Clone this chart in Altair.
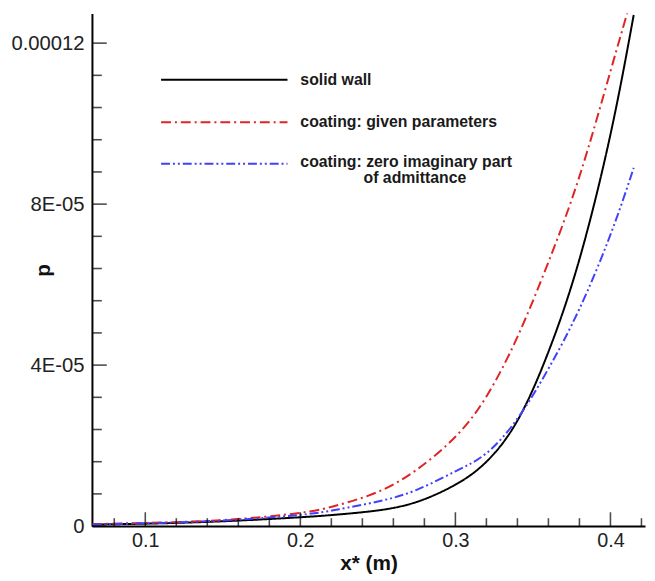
import altair as alt
import pandas as pd

# ---------------- data ----------------
x_vals = [0.066, 0.1, 0.15, 0.2, 0.225, 0.25, 0.275, 0.3, 0.32, 0.34, 0.36, 0.38, 0.4, 0.415]
solid_wall = [0.4e-6, 0.6e-6, 1.2e-6, 2.2e-6, 2.9e-6, 3.9e-6, 6.0e-6, 1.03e-5, 1.60e-5,
              2.62e-5, 4.33e-5, 6.63e-5, 9.73e-5, 1.27e-4]
coating_given = [0.5e-6, 0.8e-6, 1.5e-6, 3.3e-6, 5.3e-6, 8.5e-6, 1.40e-5, 2.22e-5, 3.22e-5,
                 4.70e-5, 6.56e-5, 8.69e-5, 1.13e-4, 1.33e-4]
coating_zero_imag = [0.4e-6, 0.7e-6, 1.4e-6, 2.8e-6, 4.2e-6, 6.1e-6, 9.0e-6, 1.36e-5, 1.81e-5,
                     2.67e-5, 3.91e-5, 5.4e-5, 7.24e-5, 8.9e-5]

series_names = ["solid wall", "coating: given parameters",
                "coating: zero imaginary part of admittance"]
legend_line1 = ["solid wall", "coating: given parameters", "coating: zero imaginary part"]
legend_line2 = ["", "", "of admittance"]
series_colors = ["#000000", "#e02424", "#4040ff"]
series_dashes = [[1, 0], [10, 4, 2, 4], [9, 3, 2, 3, 2, 3]]

x_major = [0.1, 0.2, 0.3, 0.4]
x_minor = [0.08, 0.12, 0.14, 0.16, 0.18, 0.22, 0.24, 0.26, 0.28, 0.32, 0.34, 0.36, 0.38, 0.42]
y_major = [0, 4e-5, 8e-5, 1.2e-4]
y_minor = [8e-6, 1.6e-5, 2.4e-5, 3.2e-5, 4.8e-5, 5.6e-5, 6.4e-5, 7.2e-5,
           8.8e-5, 9.6e-5, 1.04e-4, 1.12e-4]

x_domain = [0.0656, 0.4223]
y_domain = [0, 1.2736e-4]

W, H = 560, 519
FONT = "Liberation Sans"

# ---------------- build tables ----------------
rows = []
for name, vals in zip(series_names, [solid_wall, coating_given, coating_zero_imag]):
    for xv, pv in zip(x_vals, vals):
        rows.append({"x": xv, "p": pv, "series": name})
df = pd.DataFrame(rows)

xs = alt.Scale(domain=x_domain, nice=False, zero=False)
ys = alt.Scale(domain=y_domain, nice=False, zero=False)
cs = alt.Scale(domain=series_names, range=series_colors)
ds = alt.Scale(domain=series_names, range=series_dashes)

x_axis = alt.Axis(values=x_major, format=".1f", ticks=False, grid=False,
                  domainColor="#000", domainWidth=2, labelFont=FONT, labelFontSize=20,
                  labelColor="#222", labelPadding=5, labelFlush=False,
                  title="x* (m)", titleFont=FONT, titleFontSize=21, titleFontWeight="bold",
                  titleColor="#111", titlePadding=2)
y_axis = alt.Axis(values=y_major, ticks=False, grid=False,
                  labelExpr="datum.value == 0 ? '0' : (datum.value > 1e-4 ? '0.00012' : (round(datum.value * 1e5) + 'E-05'))",
                  domainColor="#000", domainWidth=2, labelFont=FONT, labelFontSize=20.5,
                  labelColor="#222", labelPadding=8, labelFlush=False,
                  title="p", titleFont=FONT, titleFontSize=21, titleFontWeight="bold",
                  titleColor="#111", titleX=-49, titleY=H / 2, titleBaseline="middle")

lines = alt.Chart(df).mark_line(clip=True, strokeWidth=2, interpolate="natural").encode(
    x=alt.X("x:Q", scale=xs, axis=x_axis),
    y=alt.Y("p:Q", scale=ys, axis=y_axis),
    color=alt.Color("series:N", scale=cs, legend=None),
    strokeDash=alt.StrokeDash("series:N", scale=ds, legend=None),
)

def yticks(vals, size):
    return alt.Chart(pd.DataFrame({"p": vals})).mark_tick(
        orient="horizontal", size=size, thickness=1.6, color="#000"
    ).encode(y=alt.Y("p:Q", scale=ys, axis=y_axis), x=alt.value(size / 2))

def xticks(vals, size):
    return alt.Chart(pd.DataFrame({"x": vals})).mark_tick(
        orient="vertical", size=size, thickness=1.6, color="#000"
    ).encode(x=alt.X("x:Q", scale=xs, axis=x_axis), y=alt.value(H - size / 2))

legend_layers = []
legend_y = [67, 110, 152]
text_y1 = [67, 110, 150]
text_y2 = [None, None, 167]
for name, l1, l2, ly, t1, t2 in zip(series_names, legend_line1, legend_line2,
                                     legend_y, text_y1, text_y2):
    ldf = pd.DataFrame({"series": [name], "l1": [l1], "l2": [l2]})
    legend_layers.append(
        alt.Chart(ldf).mark_rule(strokeWidth=2).encode(
            x=alt.value(70), x2=alt.value(198), y=alt.value(ly),
            color=alt.Color("series:N", scale=cs, legend=None),
            strokeDash=alt.StrokeDash("series:N", scale=ds, legend=None),
        )
    )
    legend_layers.append(
        alt.Chart(ldf).mark_text(align="left", baseline="middle", font=FONT, fontSize=16,
                                 fontWeight="bold", color="#1a1a1a").encode(
            x=alt.value(211), y=alt.value(t1), text="l1:N"
        )
    )
    if l2:
        legend_layers.append(
            alt.Chart(ldf).mark_text(align="left", baseline="middle", font=FONT, fontSize=16,
                                     fontWeight="bold", color="#1a1a1a").encode(
                x=alt.value(275), y=alt.value(t2), text="l2:N"
            )
        )

chart = alt.layer(
    lines,
    yticks(y_major, 15), yticks(y_minor, 10),
    xticks(x_major, 14), xticks(x_minor, 8),
    *legend_layers,
).properties(
    width=W, height=H,
    autosize=alt.AutoSizeParams(type="none"),
    padding={"left": 85, "top": 2, "right": 2, "bottom": 52},
).configure_view(strokeWidth=0)

chart.save("out.html", embed_options={"renderer": "svg", "actions": False})
